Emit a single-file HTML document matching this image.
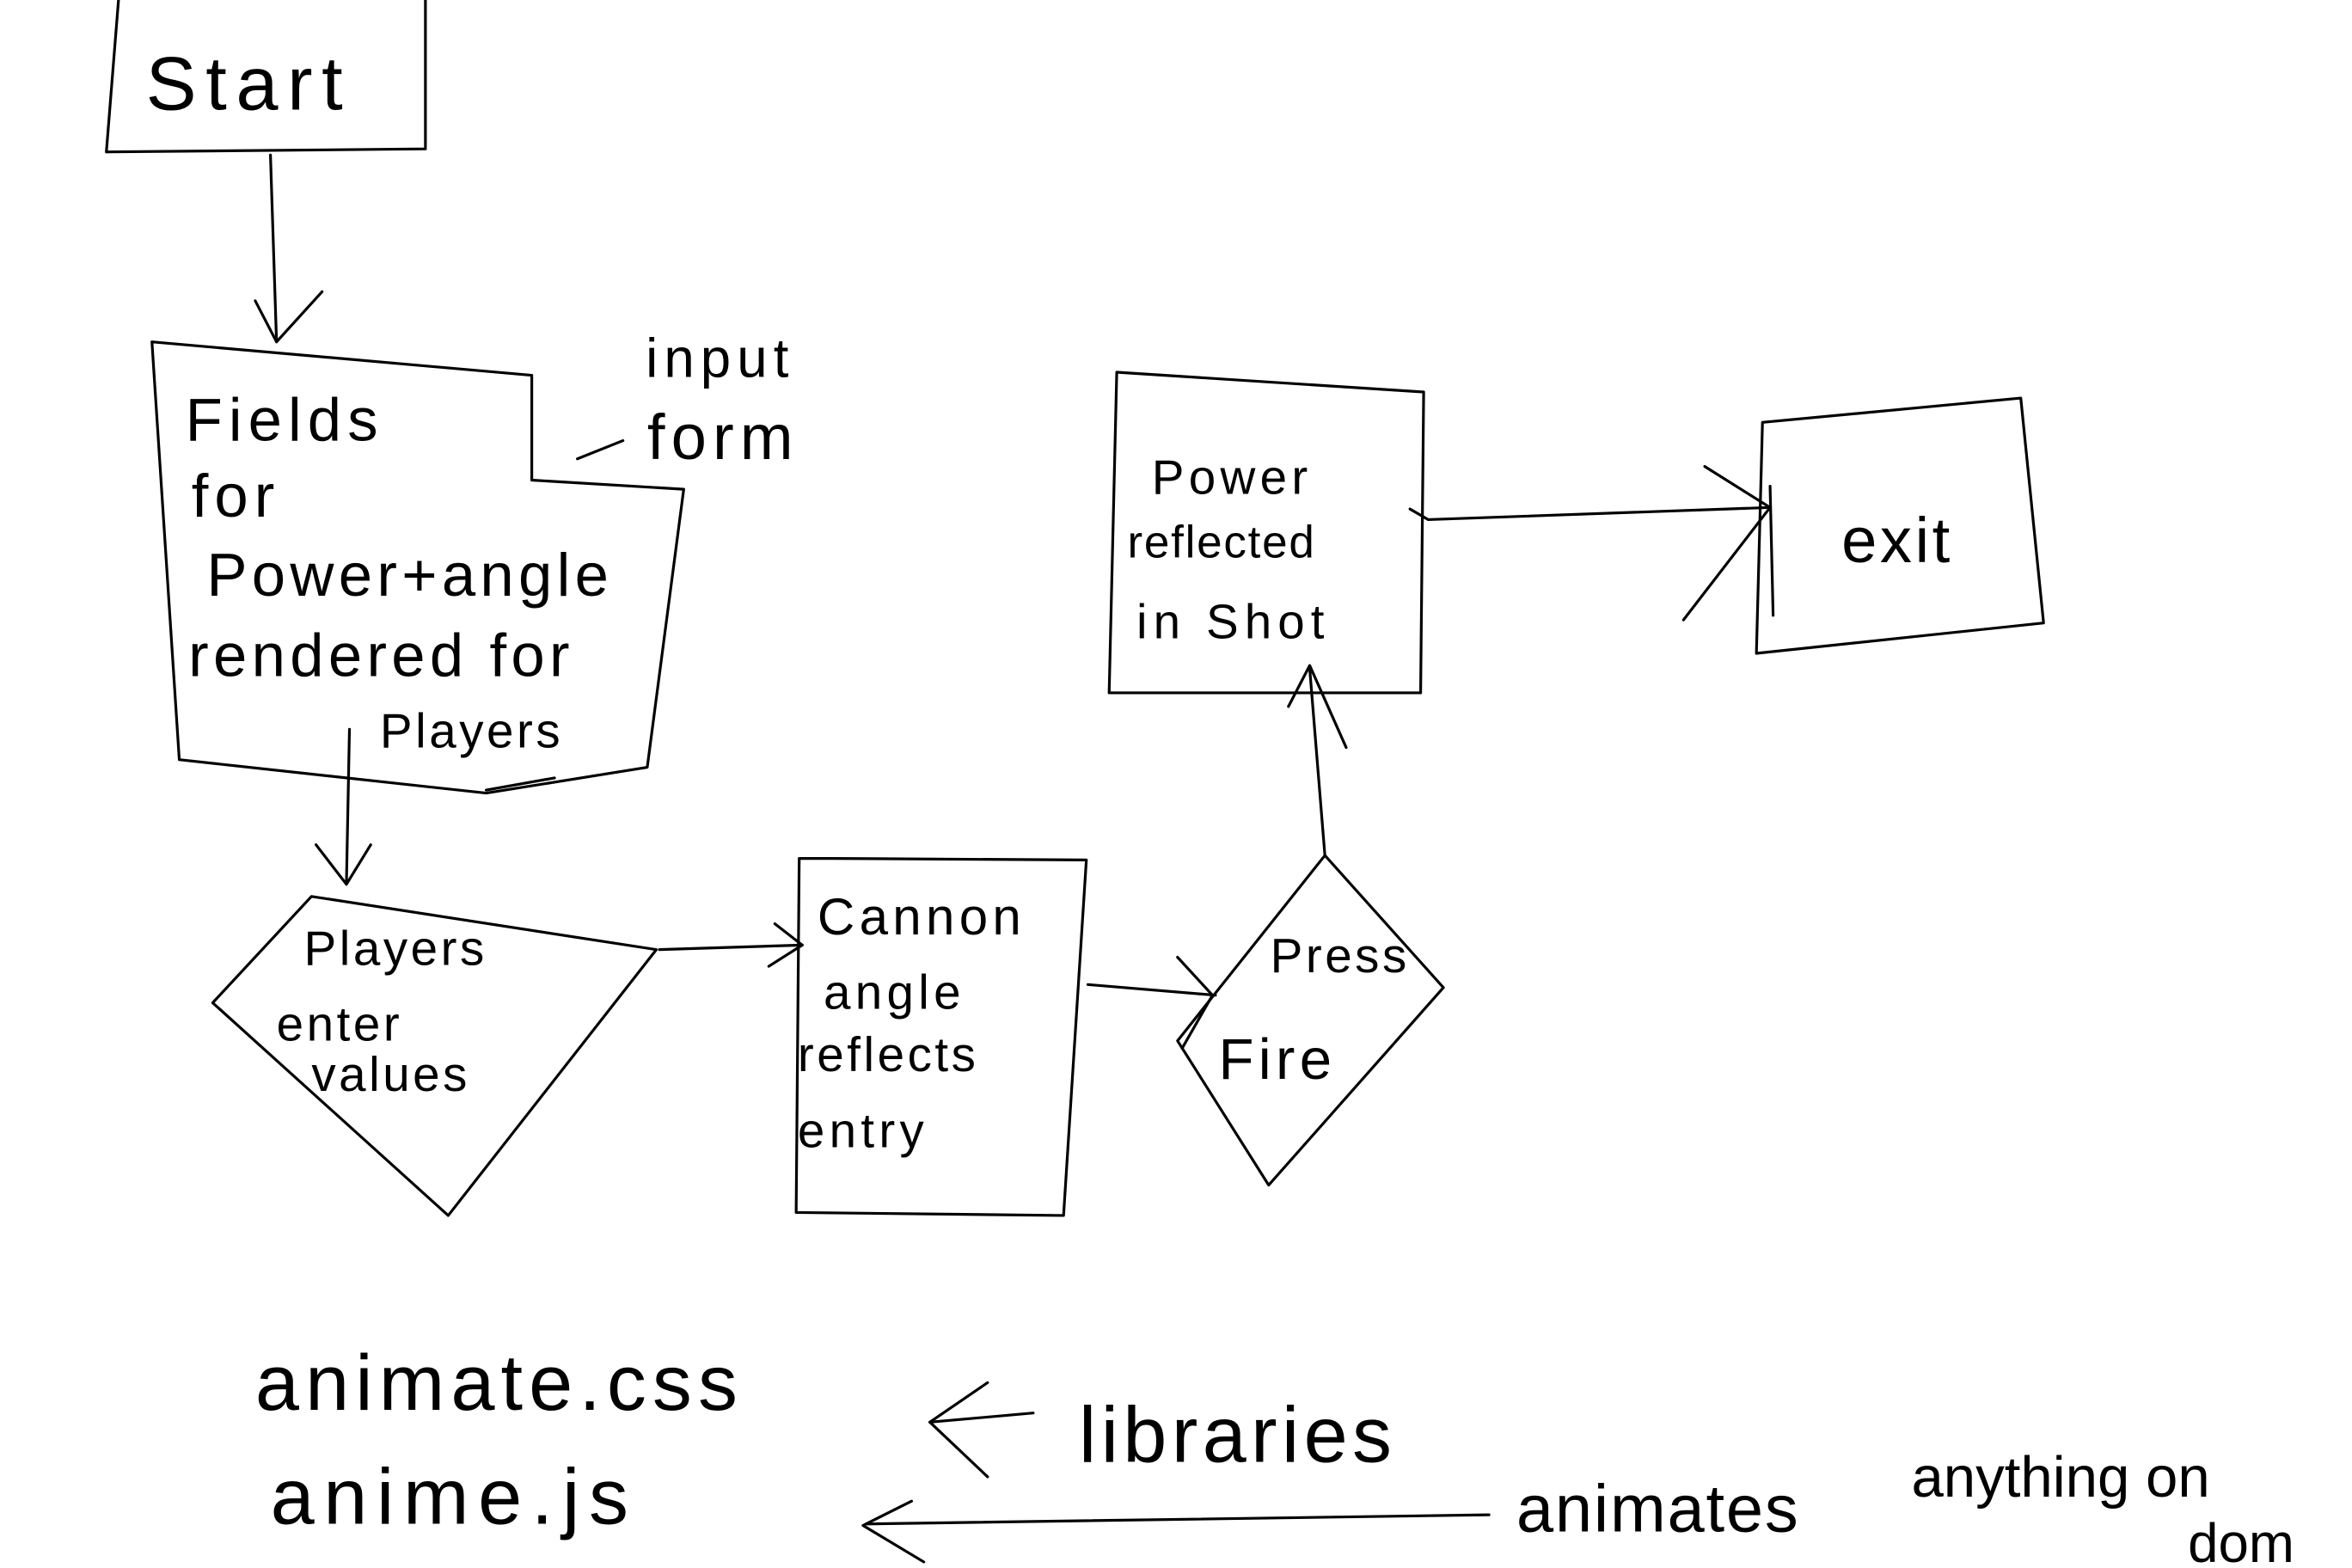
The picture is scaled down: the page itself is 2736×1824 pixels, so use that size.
<!DOCTYPE html>
<html><head><meta charset="utf-8"><style>
html,body{margin:0;padding:0;background:#fff;}
svg{display:block;}
text{font-family:"Liberation Sans",sans-serif;fill:#000;font-weight:normal;}
</style></head><body>
<svg width="2736" height="1824" viewBox="0 0 1548 1032" xmlns="http://www.w3.org/2000/svg">
<g fill="none" stroke="#000" stroke-width="1.8" stroke-linecap="round" stroke-linejoin="round">
<!-- Start box -->
<path d="M78,0 L70,100 L280,98 L280,0"/>
<!-- arrow start -> fields -->
<path d="M178,102 L182,225"/>
<path d="M168,198 L182,225 L212,192"/>
<!-- fields box (folder-like) -->
<path d="M100,225 L350,247 L350,316 L450,322 L426,505 L320,522 L118,500 L100,225"/>
<path d="M320,520 L365,512"/>
<!-- input form tick -->
<path d="M380,302 L410,290"/>
<!-- arrow fields -> players -->
<path d="M230,480 L228,582"/>
<path d="M208,556 L228,582 L244,556"/>
<!-- diamond players enter -->
<path d="M140,660 L205,590 L432,625 L295,800 Z"/>
<!-- arrow -> cannon -->
<path d="M434,625 L528,622"/>
<path d="M510,608 L528,622 L506,636"/>
<!-- cannon box -->
<path d="M548,565 L715,566 L700,800 L524,798 L526,565 Z"/>
<!-- arrow -> press fire -->
<path d="M716,648 L800,655"/>
<path d="M775,630 L798,655 L778,690"/>
<!-- diamond press fire -->
<path d="M775,685 L872,563 L950,650 L835,780 Z"/>
<!-- arrow up to power -->
<path d="M872,563 L862,440"/>
<path d="M848,465 L862,438 L886,492"/>
<!-- power box -->
<path d="M735,245 L937,258 L935,456 L730,456 Z"/>
<!-- line power -> exit -->
<path d="M928,335 L940,342 L1165,334"/>
<path d="M1122,307 L1165,334 L1108,408"/>
<!-- exit box -->
<path d="M1160,278 L1330,262 L1345,410 L1156,430 Z"/>
<path d="M1165,320 L1167,405"/>
<!-- libraries arrow -->
<path d="M650,910 L612,936 L650,972"/>
<path d="M612,936 L680,930"/>
<!-- animates arrow -->
<path d="M570,1003 L980,997"/>
<path d="M600,988 L568,1004 L608,1028"/>
</g>
<g>
<text x="96" y="72" font-size="50" letter-spacing="6">Start</text>
<text x="122" y="290" font-size="40" letter-spacing="4">Fields</text>
<text x="126" y="340" font-size="40" letter-spacing="4">for</text>
<text x="136" y="392" font-size="40" letter-spacing="3">Power+angle</text>
<text x="124" y="445" font-size="40" letter-spacing="3">rendered for</text>
<text x="250" y="492" font-size="32" letter-spacing="2">Players</text>
<text x="425" y="248" font-size="36" letter-spacing="4">input</text>
<text x="426" y="302" font-size="42" letter-spacing="4">form</text>
<text x="200" y="635" font-size="32" letter-spacing="2">Players</text>
<text x="182" y="685" font-size="32" letter-spacing="2">enter</text>
<text x="205" y="718" font-size="32" letter-spacing="2">values</text>
<text x="538" y="615" font-size="34" letter-spacing="3">Cannon</text>
<text x="542" y="664" font-size="32" letter-spacing="3">angle</text>
<text x="525" y="705" font-size="32" letter-spacing="2">reflects</text>
<text x="525" y="755" font-size="32" letter-spacing="3">entry</text>
<text x="836" y="640" font-size="32" letter-spacing="2">Press</text>
<text x="802" y="710" font-size="38" letter-spacing="3">Fire</text>
<text x="758" y="325" font-size="32" letter-spacing="3">Power</text>
<text x="742" y="367" font-size="30" letter-spacing="1">reflected</text>
<text x="748" y="420" font-size="32" letter-spacing="4">in Shot</text>
<text x="1212" y="370" font-size="42" letter-spacing="2">exit</text>
<text x="168" y="928" font-size="52" letter-spacing="4">animate.css</text>
<text x="178" y="1003" font-size="52" letter-spacing="6">anime.js</text>
<text x="710" y="962" font-size="52" letter-spacing="3">libraries</text>
<text x="998" y="1008" font-size="44" letter-spacing="1">animates</text>
<text x="1258" y="985" font-size="38">anything on</text>
<text x="1440" y="1028" font-size="36">dom</text>
</g>
</svg>
</body></html>
